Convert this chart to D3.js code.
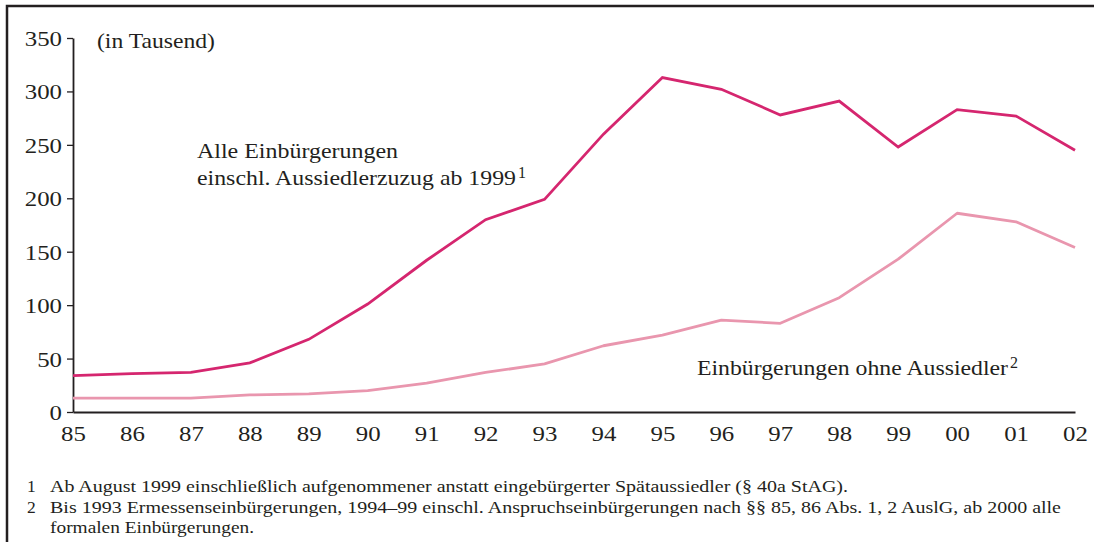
<!DOCTYPE html>
<head>
  <meta charset="utf-8">
  <title>Einbürgerungen</title>
  <script src="https://d3js.org/d3.v7.min.js"></script>
  <style>
    body { margin:0; background:#fff; }
    svg { display:block; }
    text { font-family: "Liberation Serif", "Times New Roman", serif; fill:#231f20; }
  </style>
</head>
<body>
  <svg width="1094" height="542"></svg>
  <script>
    // years 1985 - 2002, values in thousands
    var years = ['85','86','87','88','89','90','91','92','93','94','95','96','97','98','99','00','01','02'];
    var alle = [34, 36, 37, 46, 68, 101, 142, 180, 199, 260, 313, 302, 278, 291, 248, 283, 277, 245];
    var ohneAussiedler = [13, 13, 13, 16, 17, 20, 27, 37, 45, 62, 72, 86, 83, 107, 143, 186, 178, 154];
    var yTicks = [0, 50, 100, 150, 200, 250, 300, 350];
    var footnotes = [
      ['1', 'Ab August 1999 einschließlich aufgenommener anstatt eingebürgerter Spätaussiedler (§ 40a StAG).', 798],
      ['2', 'Bis 1993 Ermessenseinbürgerungen, 1994–99 einschl. Anspruchseinbürgerungen nach §§ 85, 86 Abs. 1, 2 AuslG, ab 2000 alle', 1011],
      ['', 'formalen Einbürgerungen.', 204]
    ];

    var svg = d3.select('svg');
    var ink = '#231f20';
    var sx = 1.13; // the type in the original is a little wide

    // frame (top and left edge)
    svg.append('path')
      .attr('d', 'M7,1000 V6 H1100')
      .attr('fill', 'none')
      .attr('stroke', ink)
      .attr('stroke-width', 2.5);

    var x = d3.scalePoint().domain(years).range([73, 1075]);
    var y = d3.scaleLinear().domain([0, 350]).range([412, 38]);

    // y axis
    var yAxis = svg.append('g')
      .attr('transform', 'translate(73,0)')
      .call(d3.axisLeft(y).tickValues(yTicks).tickSize(6).tickSizeOuter(0).tickPadding(5));
    yAxis.select('.domain').attr('stroke', ink).attr('stroke-width', 1.8);
    yAxis.selectAll('.tick line').attr('stroke', ink).attr('stroke-width', 1.3);
    yAxis.selectAll('text').attr('font-size', 22).attr('fill', ink)
      .attr('font-family', '"Liberation Serif", serif').attr('dy', '0.34em')
      .attr('x', -11 / sx).attr('transform', 'scale(' + sx + ',1)');

    // x axis
    var xAxis = svg.append('g')
      .attr('transform', 'translate(0,412)')
      .call(d3.axisBottom(x).tickSize(0).tickPadding(13));
    xAxis.select('.domain').attr('stroke', ink).attr('stroke-width', 2);
    xAxis.selectAll('text').attr('font-size', 22).attr('fill', ink)
      .attr('font-family', '"Liberation Serif", serif').attr('dy', '0.71em')
      .attr('transform', 'scale(' + sx + ',1)');

    var line = d3.line()
      .x(function(d, i) { return x(years[i]); })
      .y(function(d) { return y(d); });

    svg.append('path')
      .attr('d', line(ohneAussiedler))
      .attr('fill', 'none')
      .attr('stroke', '#e996ae')
      .attr('stroke-width', 2.8)
      .attr('stroke-linejoin', 'round');

    svg.append('path')
      .attr('d', line(alle))
      .attr('fill', 'none')
      .attr('stroke', '#d5266f')
      .attr('stroke-width', 2.8)
      .attr('stroke-linejoin', 'miter');

    function label(tx, ty, size, str, len) {
      return svg.append('text').attr('x', tx).attr('y', ty).attr('font-size', size)
        .attr('textLength', len).attr('lengthAdjust', 'spacingAndGlyphs').text(str);
    }

    // unit label
    label(97, 48, 22, '(in Tausend)', 118);

    // series labels
    label(197, 158, 22, 'Alle Einbürgerungen', 201);
    label(197, 185, 22, 'einschl. Aussiedlerzuzug ab 1999', 319);
    svg.append('text').attr('x', 518).attr('y', 178).attr('font-size', 16).text('1');

    label(697, 375, 22, 'Einbürgerungen ohne Aussiedler', 311);
    svg.append('text').attr('x', 1010).attr('y', 368).attr('font-size', 16).text('2');

    // footnotes
    var fy = [492, 513, 533];
    footnotes.forEach(function(f, i) {
      svg.append('text').attr('x', 27).attr('y', fy[i]).attr('font-size', 17.5).text(f[0]);
      label(50, fy[i], 17.5, f[1], f[2]);
    });
  </script>
</body>
